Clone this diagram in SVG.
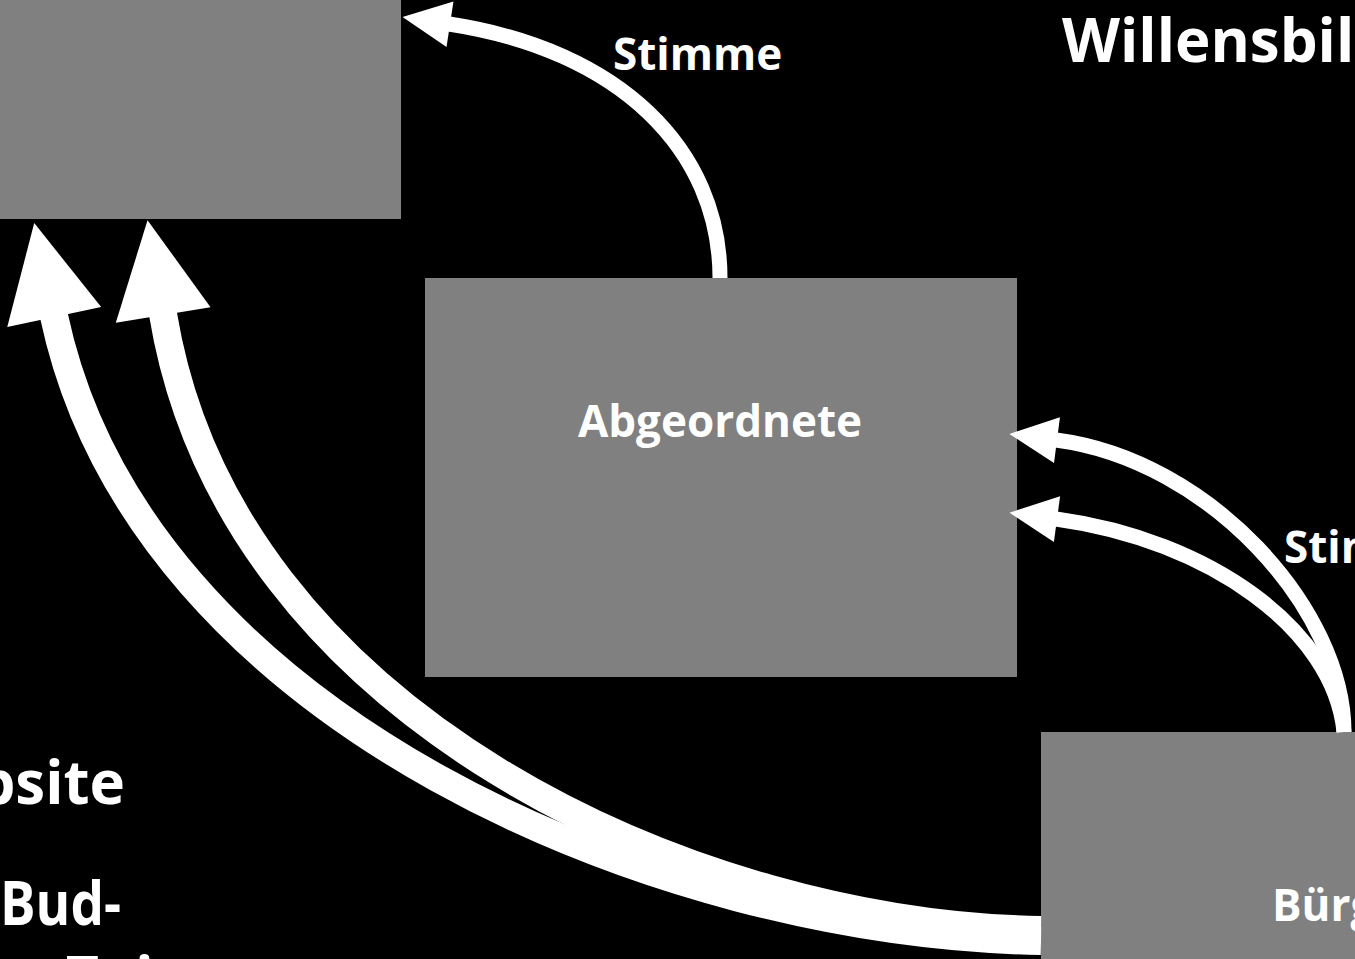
<svg xmlns="http://www.w3.org/2000/svg" width="1355" height="959" viewBox="0 0 1355 959">
<defs>
<style>
.box{fill:#808080}
.t{font-family:"Open Sans","DejaVu Sans",sans-serif;font-weight:bold;fill:#ffffff;font-variant-ligatures:none}
.lbl{font-size:44px}
.big{font-size:60px}
.thin{fill:none;stroke:#ffffff;stroke-width:15}
.thick{fill:none;stroke:#ffffff;stroke-width:28}
</style>
<marker id="hs" markerUnits="userSpaceOnUse" viewBox="0 -24 48 48" refX="0" refY="0" markerWidth="48" markerHeight="48" orient="auto" overflow="visible">
<path d="M-1,-23 L47,0 L-1,23 z" fill="#ffffff"/>
</marker>
<marker id="hl" markerUnits="userSpaceOnUse" viewBox="0 -50 96 100" refX="0" refY="0" markerWidth="96" markerHeight="100" orient="auto" overflow="visible">
<path d="M-1,-48 L95,0 L-1,48 z" fill="#ffffff"/>
</marker>
</defs>
<rect width="1355" height="959" fill="#000000"/>
<g id="node-top-left">
<rect class="box" x="-10" y="-10" width="411" height="229"/>
</g>
<g id="node-abgeordnete">
<rect class="box" x="425" y="278" width="592" height="399"/>
<text class="t lbl" x="720" y="437" text-anchor="middle">Abgeordnete</text>
</g>
<g id="node-buerger">
<rect class="box" x="1041" y="732" width="330" height="240"/>
<text class="t lbl" x="1272" y="921">Bürger</text>
</g>
<g id="connectors">
<path class="thin" d="M720,278 C720,150 620,50 449,24" marker-end="url(#hs)"/>
<path class="thin" d="M1344,732 C1344,610 1210,460 1056,440" marker-end="url(#hs)"/>
<path class="thin" d="M1344,732 C1334,630 1210,540 1056,519" marker-end="url(#hs)"/>
<path class="thick" d="M1041,941 C660,935 140,720 54,316" marker-end="url(#hl)"/>
<path class="thick" d="M1041,930 C700,925 230,720 163,314" marker-end="url(#hl)"/>
</g>
<g id="labels">
<text class="t lbl" x="613" y="70">Stimme</text>
<text class="t lbl" x="1284" y="563">Stimme</text>
<text class="t big" x="1062" y="62" font-size="57">Willensbildung</text>
<text class="t big" x="125" y="804" text-anchor="end">Website</text>
<text class="t big" x="0" y="925" textLength="121" lengthAdjust="spacingAndGlyphs">Bud-</text>
<text class="t big" x="65" y="1000">Zeit</text>
</g>
</svg>
